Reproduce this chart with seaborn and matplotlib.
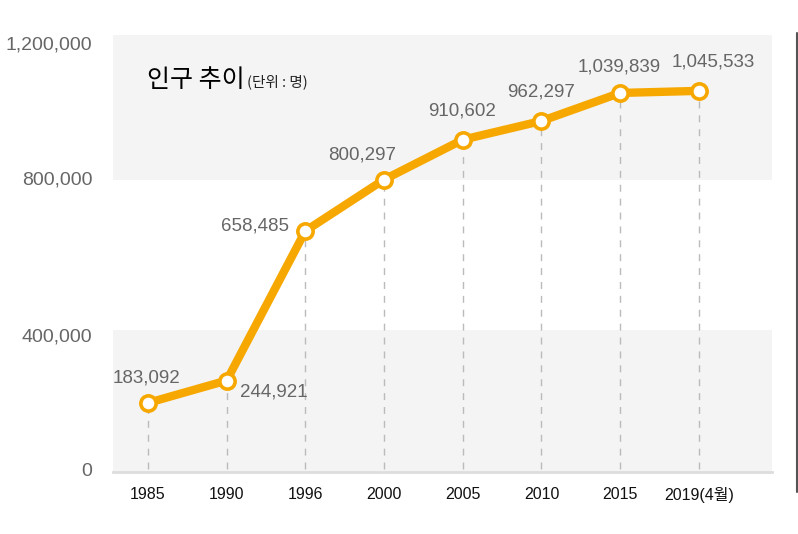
import numpy as np
import pandas as pd
import seaborn as sns
import matplotlib.pyplot as plt
from matplotlib.lines import Line2D
from matplotlib.transforms import ScaledTranslation

years = ["1985", "1990", "1996", "2000", "2005", "2010", "2015", "2019(4월)"]
population = [183092, 244921, 658485, 800297, 910602, 962297, 1039839, 1045533]
y_ticks = [0, 400000, 800000, 1200000]

# label offsets (pixels) relative to each point
label_dx = [-2, 47, -50, -22, -1, 0, -1, 14]
label_dy = [25, -11, 5, 25, 29, 29, 26, 29]
# small vertical nudges of the y tick labels (pixels, down is positive)
ytick_nudge = [0, 11, -2, 8]

sns.set_theme(style="white")
plt.rcParams["font.family"] = ["Liberation Sans", "Noto Sans CJK KR", "DejaVu Sans"]

df = pd.DataFrame({"pos": np.arange(len(years)), "pop": population})

fig = plt.figure(figsize=(7.98, 5.34), dpi=100)
ax = fig.add_axes([113 / 798, 1 - 472 / 534, (772 - 113) / 798, (472 - 35) / 534])

ax.axhspan(800000, 1200000, color="#f4f4f4", zorder=0, lw=0)
ax.axhspan(-8000, 385000, color="#f4f4f4", zorder=0, lw=0)

for x, v in zip(df["pos"], df["pop"]):
    ax.plot([x, x], [0, v], color="#bbbbbb", lw=1, ls=(0, (5, 5)), zorder=1)

sns.lineplot(data=df, x="pos", y="pop", ax=ax, color="#f7a800", lw=6,
             marker="o", markersize=11, markerfacecolor="white",
             markeredgecolor="#f7a800", markeredgewidth=2.6, zorder=3)

for x, v, dx, dy in zip(df["pos"], df["pop"], label_dx, label_dy):
    ax.annotate(f"{v:,}", (x, v), xytext=(dx, dy), textcoords="offset pixels",
                ha="center", va="center", fontsize=13.5, color="#666666")

ax.set_xlim(-0.445, 7.93)
ax.set_ylim(-8000, 1200000)
ax.set_xticks(df["pos"])
ax.set_xticklabels(years, fontsize=11.5, color="#111111")
ax.set_yticks(y_ticks)
ax.set_yticklabels([f"{t:,}" for t in y_ticks], fontsize=14, color="#666666")
ax.tick_params(axis="both", length=0)
ax.tick_params(axis="x", pad=11)
ax.tick_params(axis="y", pad=15)
for lab, n in zip(ax.get_yticklabels(), ytick_nudge):
    lab.set_transform(lab.get_transform() + ScaledTranslation(0, -n / 100, fig.dpi_scale_trans))
ax.set_xlabel("")
ax.set_ylabel("")
for s in ["top", "right", "left"]:
    ax.spines[s].set_visible(False)
ax.spines["bottom"].set_color("#dddddd")
ax.spines["bottom"].set_linewidth(2)

fig.text(147 / 798, 1 - 80 / 534, "인구 추이", fontsize=18, color="black",
         va="center", ha="left", family=["Noto Sans CJK KR"], fontweight="medium")
fig.text(247 / 798, 1 - 82 / 534, "(단위 : 명)", fontsize=10.5, color="#222222",
         va="center", ha="left", family=["Noto Sans CJK KR"])

fig.add_artist(Line2D([797 / 798, 797 / 798], [1 - 33 / 534, 1 - 492 / 534],
                      color="#555555", lw=1.5))

fig.savefig("out.png", dpi=100)
